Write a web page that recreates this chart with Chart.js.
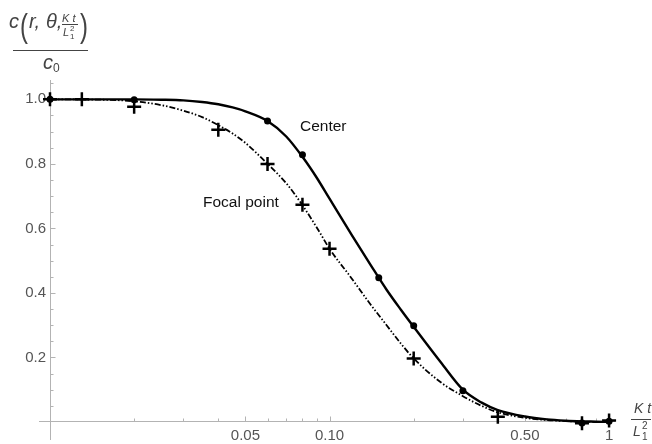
<!DOCTYPE html>
<html>
<head>
<meta charset="utf-8">
<script src="https://cdn.jsdelivr.net/npm/chart.js@4.4.0/dist/chart.umd.min.js"></script>
<style>
  body { margin: 0; background: #fff; }
  #wrap { position: relative; width: 652px; height: 444px; font-family: "Liberation Sans", Arial, sans-serif; }
  #wrap canvas { position: absolute; left: 0; top: 0; }
  .t { position: absolute; line-height: 1; white-space: nowrap; color: #444; }
  .it { font-style: italic; }
  .bar { position: absolute; height: 1px; background: #444; }
  .note { position: absolute; line-height: 1; white-space: nowrap; color: #111; font-size: 15.5px; }
</style>
</head>
<body>
<div id="wrap">
  <canvas id="chart" width="652" height="444"></canvas>

  <!-- y axis title: c(r, θ, Kt/L1^2) / c0 -->
  <span class="t it" style="left:9px; top:11px; font-size:20px;">c</span>
  <span class="t" style="left:20px; top:8px; font-size:34px; transform:scaleX(0.7); transform-origin:left;">(</span>
  <span class="t it" style="left:29px; top:11px; font-size:20px;">r,</span>
  <span class="t it" style="left:46px; top:11px; font-size:20px;">θ,</span>
  <span class="t it" style="left:62px; top:12.5px; font-size:11px;">K t</span>
  <div class="bar" style="left:62px; top:24px; width:16px;"></div>
  <span class="t it" style="left:63px; top:27px; font-size:11px;">L</span>
  <span class="t" style="left:70px; top:25px; font-size:8px;">2</span>
  <span class="t" style="left:70px; top:33px; font-size:8px;">1</span>
  <span class="t" style="left:80px; top:8px; font-size:34px; transform:scaleX(0.7); transform-origin:left;">)</span>
  <div class="bar" style="left:13px; top:50px; width:75px;"></div>
  <span class="t it" style="left:43px; top:51.5px; font-size:20px;">c</span>
  <span class="t" style="left:53px; top:61.5px; font-size:12px;">0</span>

  <!-- x axis title: Kt / L1^2 -->
  <span class="t it" style="left:634px; top:401px; font-size:14px;">K t</span>
  <div class="bar" style="left:631px; top:419px; width:20px;"></div>
  <span class="t it" style="left:633px; top:424px; font-size:14px;">L</span>
  <span class="t" style="left:642px; top:421px; font-size:10px;">2</span>
  <span class="t" style="left:642px; top:431.5px; font-size:10px;">1</span>

  <div class="note" style="left:300px; top:117.5px;">Center</div>
  <div class="note" style="left:203px; top:193.5px;">Focal point</div>
</div>

<script>
// smooth curves
const curveX = [0.01, 0.015, 0.02, 0.025, 0.03, 0.035, 0.04, 0.045, 0.05, 0.06, 0.07, 0.08, 0.09, 0.1,
                0.12, 0.14, 0.16, 0.18, 0.2, 0.25, 0.3, 0.35, 0.4, 0.5, 0.6, 0.7, 0.8, 0.9, 1.0];
const centerCurve = [1.0, 1.0, 1.0, 0.999, 0.997, 0.992, 0.985, 0.975, 0.963, 0.933, 0.885, 0.822, 0.757, 0.692,
                     0.58, 0.488, 0.41, 0.348, 0.295, 0.185, 0.1, 0.06, 0.037, 0.017, 0.008, 0.004, 0.002, 0.001, 0.0];
const focalCurve = [1.0, 0.999, 0.994, 0.982, 0.965, 0.945, 0.92, 0.894, 0.865, 0.80, 0.74, 0.672, 0.603, 0.537,
                    0.445, 0.365, 0.30, 0.243, 0.197, 0.123, 0.08, 0.05, 0.03, 0.013, 0.006, 0.003, 0.001, 0.0, 0.0];

// markers
const centerX = [0.01, 0.02, 0.06, 0.08, 0.15, 0.2, 0.3, 0.8, 1.0];
const centerY = [1.0, 0.999, 0.933, 0.828, 0.447, 0.298, 0.097, -0.003, 0.002];
const focalX = [0.01, 0.013, 0.02, 0.04, 0.06, 0.08, 0.1, 0.2, 0.4, 0.8, 1.0];
const focalY = [1.0, 1.0, 0.977, 0.906, 0.80, 0.673, 0.537, 0.197, 0.016, -0.004, 0.005];

// ticks
const xTicks = [0.05, 0.1, 0.5, 1];
const xTickLabels = ['0.05', '0.10', '0.50', '1'];
const xMinor = [0.02, 0.03, 0.04, 0.06, 0.07, 0.08, 0.09, 0.2, 0.3, 0.4, 0.6, 0.7, 0.8, 0.9];
const yTicks = [0.2, 0.4, 0.6, 0.8, 1.0];
const yTickLabels = ['0.2', '0.4', '0.6', '0.8', '1.0'];
const yMinor = [0.05, 0.1, 0.15, 0.25, 0.3, 0.35, 0.45, 0.5, 0.55, 0.65, 0.7, 0.75, 0.85, 0.9, 0.95, 1.05];

const pts = (xs, ys) => xs.map((v, i) => ({ x: v, y: ys[i] }));

// mathematica style axes crossing at (0.01, 0), ticks pointing inward
const axesPlugin = {
    id: 'mmaAxes',
    beforeDatasetsDraw(chart) {
        const { ctx, scales: { x, y } } = chart;
        const x0 = Math.round(x.getPixelForValue(0.01)) + 0.5;
        const y0 = Math.round(y.getPixelForValue(0)) - 0.5;
        ctx.save();
        ctx.strokeStyle = '#b3b3b3';
        ctx.lineWidth = 1;
        ctx.beginPath();
        ctx.moveTo(39, y0); ctx.lineTo(x.right, y0);
        ctx.moveTo(x0, y.top); ctx.lineTo(x0, 440);
        xTicks.forEach(v => {
            const px = Math.round(x.getPixelForValue(v)) + 0.5;
            ctx.moveTo(px, y0); ctx.lineTo(px, y0 - 5);
        });
        xMinor.forEach(v => {
            const px = Math.round(x.getPixelForValue(v)) + 0.5;
            ctx.moveTo(px, y0); ctx.lineTo(px, y0 - 3);
        });
        yTicks.forEach(v => {
            const py = Math.round(y.getPixelForValue(v)) + 0.5;
            ctx.moveTo(x0, py); ctx.lineTo(x0 + 5, py);
        });
        yMinor.forEach(v => {
            const py = Math.round(y.getPixelForValue(v)) + 0.5;
            ctx.moveTo(x0, py); ctx.lineTo(x0 + 3, py);
        });
        ctx.stroke();
        ctx.restore();
    }
};

const tickFont = { family: '"Liberation Sans", Arial, sans-serif', size: 15 };

new Chart(document.getElementById('chart'), {
    type: 'scatter',
    data: {
        datasets: [
            {
                label: 'Center points',
                data: pts(centerX, centerY),
                pointStyle: 'circle',
                pointRadius: 3.5,
                backgroundColor: '#000',
                borderWidth: 0,
                clip: false,
                order: 0
            },
            {
                label: 'Focal point points',
                data: pts(focalX, focalY),
                pointStyle: 'cross',
                pointRadius: 7,
                borderColor: '#000',
                borderWidth: 2.5,
                clip: false,
                order: 0
            },
            {
                label: 'Center',
                data: pts(curveX, centerCurve),
                showLine: true,
                pointRadius: 0,
                borderColor: '#000',
                borderWidth: 2.4,
                cubicInterpolationMode: 'monotone',
                clip: false,
                order: 1
            },
            {
                label: 'Focal point',
                data: pts(curveX, focalCurve),
                showLine: true,
                pointRadius: 0,
                borderColor: '#000',
                borderWidth: 1.8,
                borderDash: [6, 2, 1.5, 2, 1.5, 2],
                cubicInterpolationMode: 'monotone',
                clip: false,
                order: 1
            }
        ]
    },
    options: {
        responsive: false,
        animation: false,
        layout: { padding: { top: 80, right: 37, left: 0, bottom: 0 } },
        plugins: { legend: { display: false }, tooltip: { enabled: false } },
        scales: {
            x: {
                type: 'logarithmic',
                min: 0.01,
                max: 1.05,
                afterBuildTicks: s => { s.ticks = xTicks.map(v => ({ value: v })); },
                afterFit: s => { s.height = 22; },
                grid: { display: false, drawTicks: false },
                border: { display: false },
                ticks: {
                    callback: (v, i) => xTickLabels[i],
                    color: '#555',
                    font: tickFont,
                    padding: 5,
                    maxRotation: 0,
                    autoSkip: false
                }
            },
            y: {
                min: 0,
                max: 1.06,
                afterBuildTicks: s => { s.ticks = yTicks.map(v => ({ value: v })); },
                afterFit: s => { s.width = 50; },
                grid: { display: false, drawTicks: false },
                border: { display: false },
                ticks: {
                    callback: (v, i) => yTickLabels[i],
                    color: '#555',
                    font: tickFont,
                    padding: 4
                }
            }
        }
    },
    plugins: [axesPlugin]
});
</script>
</body>
</html>
